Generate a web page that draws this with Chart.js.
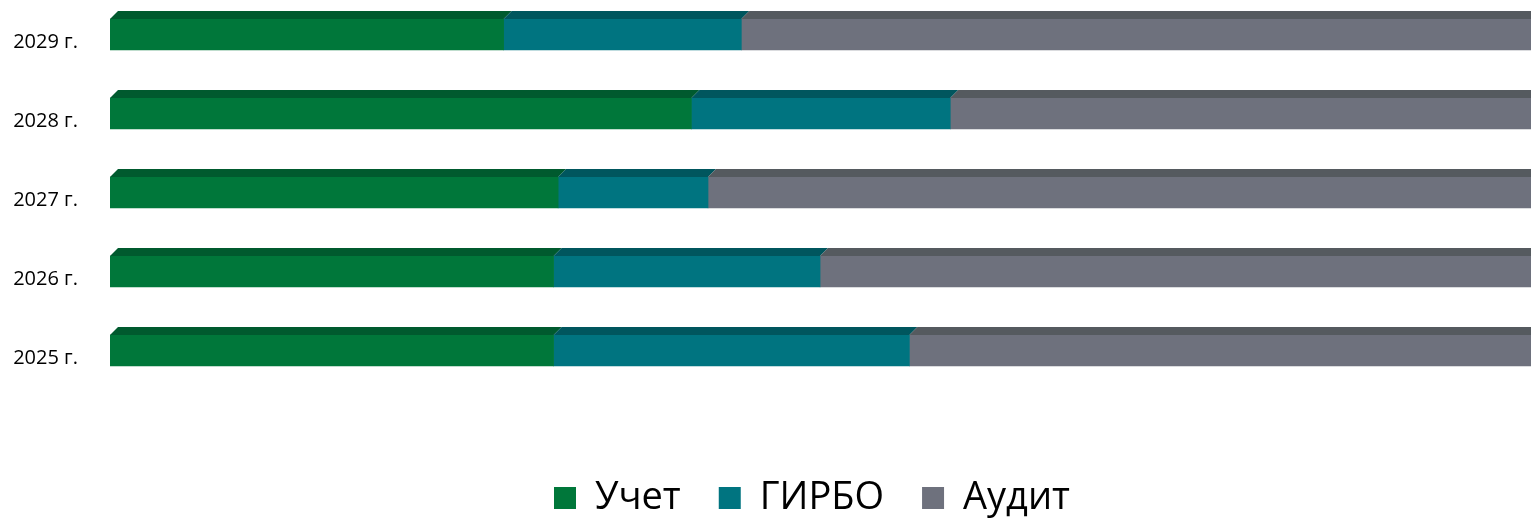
<!DOCTYPE html>
<html lang="ru">
<head>
<meta charset="utf-8">
<script src="https://cdn.jsdelivr.net/npm/chart.js@4/dist/chart.umd.min.js"></script>
<style>
html,body{margin:0;padding:0;background:#fff;overflow:hidden;width:1531px;height:518px;}
#wrap{position:absolute;left:0;top:-49px;width:1624px;height:576px;}
</style>
</head>
<body>
<div id="wrap"><canvas id="grafico"></canvas></div>
<script>
// datos (% por año)
var anos  = ['2029 г.','2028 г.','2027 г.','2026 г.','2025 г.'];
var uchet = [26.0, 38.4, 29.6, 29.3, 29.3];
var girbo = [15.7, 17.1,  9.9, 17.6, 23.5];
var audit = [58.3, 44.5, 60.5, 53.1, 47.2];

Chart.defaults.font.family = "'Open Sans', sans-serif";
Chart.defaults.color = '#000';

// cara superior "3D" de cada barra
var cara3d = {
  id: 'cara3d',
  afterDatasetsDraw: function(chart){
    var ctx = chart.ctx, d = 8;
    chart.data.datasets.forEach(function(ds, i){
      var meta = chart.getDatasetMeta(i);
      if(meta.hidden) return;
      meta.data.forEach(function(bar){
        var p = bar.getProps(['x','y','base','height'], true);
        var top = p.y - p.height/2;
        ctx.save();
        ctx.fillStyle = ds.colorTapa;
        ctx.beginPath();
        ctx.moveTo(p.base, top);
        ctx.lineTo(p.base + d, top - d);
        ctx.lineTo(p.x + d, top - d);
        ctx.lineTo(p.x, top);
        ctx.closePath();
        ctx.fill();
        ctx.restore();
      });
    });
  }
};

new Chart(document.getElementById('grafico'), {
  type: 'bar',
  data: {
    labels: anos,
    datasets: [
      {label:'Учет',  data:uchet, backgroundColor:'#00773A', colorTapa:'#005A2E', barThickness:31},
      {label:'ГИРБО', data:girbo, backgroundColor:'#007480', colorTapa:'#00565E', barThickness:31},
      {label:'Аудит', data:audit, backgroundColor:'#6E717D', colorTapa:'#555A5F', barThickness:31}
    ]
  },
  options: {
    indexAxis: 'y',
    responsive: true,
    maintainAspectRatio: false,
    animation: false,
    layout: {padding: {top:15, left:0, right:0, bottom:0}},
    scales: {
      x: {
        stacked: true, min: 0, max: 100,
        grid: {display:false, drawTicks:false},
        border: {display:false},
        ticks: {display:false},
        afterFit: function(s){ s.height = 51; }
      },
      y: {
        stacked: true,
        grid: {display:false, drawTicks:false},
        border: {display:false},
        ticks: {font:{size:20}, padding:32, labelOffset:8},
        afterFit: function(s){ s.width = 110; }
      }
    },
    plugins: {
      legend: {
        position: 'bottom',
        labels: {boxWidth:22, boxHeight:22, padding:38, font:{size:38}}
      },
      tooltip: {enabled:false}
    }
  },
  plugins: [cara3d]
});
</script>
</body>
</html>
